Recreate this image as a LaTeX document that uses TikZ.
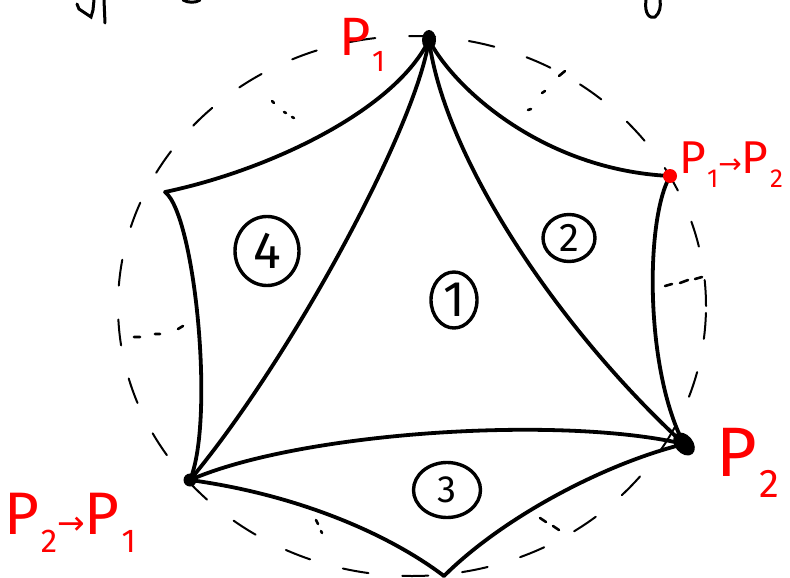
\documentclass[tikz,border=0pt]{standalone}
\usepackage{fontspec}
\newfontfamily\hand{Fira Sans}
\newfontfamily\arr{DejaVu Sans}
\usetikzlibrary{shapes.geometric}
\definecolor{pen}{RGB}{255,0,0}
\begin{document}
\begin{tikzpicture}[x=1pt,y=-1pt,
  edge/.style={line width=3.8pt, line cap=round, line join=round},
  circ/.style={line width=2pt, line cap=round, dash pattern=on 26pt off 34pt},
  tick/.style={line width=2.6pt, line cap=round},
  num/.style={draw, ellipse, line width=3.4pt, inner sep=0pt},
  lab/.style={text=pen, inner sep=0pt}]
\useasboundingbox (0,0) rectangle (790,578);
% dashed circle
\draw[circ] (412,306) ellipse [x radius=294pt, y radius=270pt];
% vertices
\coordinate (A) at (429,40);
\coordinate (B) at (670,176);
\coordinate (C) at (684,444);
\coordinate (D) at (444,576);
\coordinate (E) at (190,480);
\coordinate (F) at (165,192);
% edges
\draw[edge] (A) .. controls (415,130) and (290,360) .. (E);
\draw[edge] (A) .. controls (445,160) and (560,330) .. (C);
\draw[edge] (E) .. controls (300,432) and (560,415) .. (C);
\draw[edge] (A) .. controls (395,110) and (270,170) .. (F);
\draw[edge] (F) .. controls (195,215) and (215,420) .. (E);
\draw[edge] (A) .. controls (455,90) and (545,170) .. (B);
\draw[edge] (B) .. controls (645,220) and (645,370) .. (C);
\draw[edge] (E) .. controls (300,495) and (390,535) .. (D);
\draw[edge] (D) .. controls (500,520) and (600,465) .. (C);
% midpoint ticks
\draw[tick] (134,337) -- (140,337) (155,334) -- (160,334) (178,329) -- (183,326);
\draw[tick] (272,101) -- (274,103) (284,112) -- (286,113) (292,117) -- (294,118);
\draw[tick] (528,110) -- (531,109) (542,93) -- (545,91) (559,76) -- (565,71);
\draw[tick] (665,286) -- (672,284) (680,283) -- (688,280) (695,279) -- (702,277);
\draw[tick] (316,520) -- (318,524) (321,531) -- (322,533);
\draw[tick] (540,518) -- (546,522) (553,526) -- (559,530);
% vertex dots
\fill (A) ellipse [x radius=7pt, y radius=10pt];
\fill[rotate around={40:(C)}] (C) ellipse [x radius=9pt, y radius=13pt];
\fill (E) circle [radius=6.5pt];
\fill[pen] (B) circle [radius=7pt];
% circled numbers
\node[num, minimum width=46pt, minimum height=56pt, font=\hand\fontsize{50}{50}\selectfont] (n1) at (454,300) {1};
\node[num, minimum width=52pt, minimum height=47pt, font=\hand\fontsize{40}{40}\selectfont] (n2) at (569,238) {2};
\node[num, minimum width=67pt, minimum height=55pt, font=\hand\fontsize{38}{38}\selectfont] (n3) at (447,490) {3};
\node[num, minimum width=64pt, minimum height=69pt, font=\hand\fontsize{52}{52}\selectfont] (n4) at (267,251) {4};
% red labels
\node[lab, font=\hand\fontsize{54}{54}\selectfont] (l1) at (362,45) {P\kern0.03em\raisebox{-0.3em}{\fontsize{30}{30}\selectfont 1}};
\node[lab, font=\hand\fontsize{70}{70}\selectfont] (l2) at (748,463) {P\kern0.03em\raisebox{-0.3em}{\fontsize{40}{40}\selectfont 2}};
\node[lab, font=\hand\fontsize{46}{46}\selectfont] (l3) at (731,165) {P\kern0.03em\raisebox{-0.3em}{\fontsize{26}{26}\selectfont 1}{\arr\fontsize{28}{28}\selectfont →}P\kern0.03em\raisebox{-0.3em}{\fontsize{26}{26}\selectfont 2}};
\node[lab, font=\hand\fontsize{60}{60}\selectfont] (l4) at (70,523) {P\kern0.03em\raisebox{-0.3em}{\fontsize{33}{33}\selectfont 2}{\arr\fontsize{33}{33}\selectfont →}P\kern0.03em\raisebox{-0.3em}{\fontsize{33}{33}\selectfont 1}};
% cut-off strokes at top
\draw[tick, line width=3pt] (77,4) -- (79,9) -- (91,17) -- (93,10) -- (94,0);
\draw[tick, line width=3pt] (104,0) -- (105,23);
\draw[tick, line width=3pt] (183,0) .. controls (188,3) and (196,3) .. (200,0);
\draw[tick, line width=3pt] (646,0) .. controls (644,14) and (650,19) .. (655,17) .. controls (660,13) and (661,6) .. (660,0);
\end{tikzpicture}
\end{document}
